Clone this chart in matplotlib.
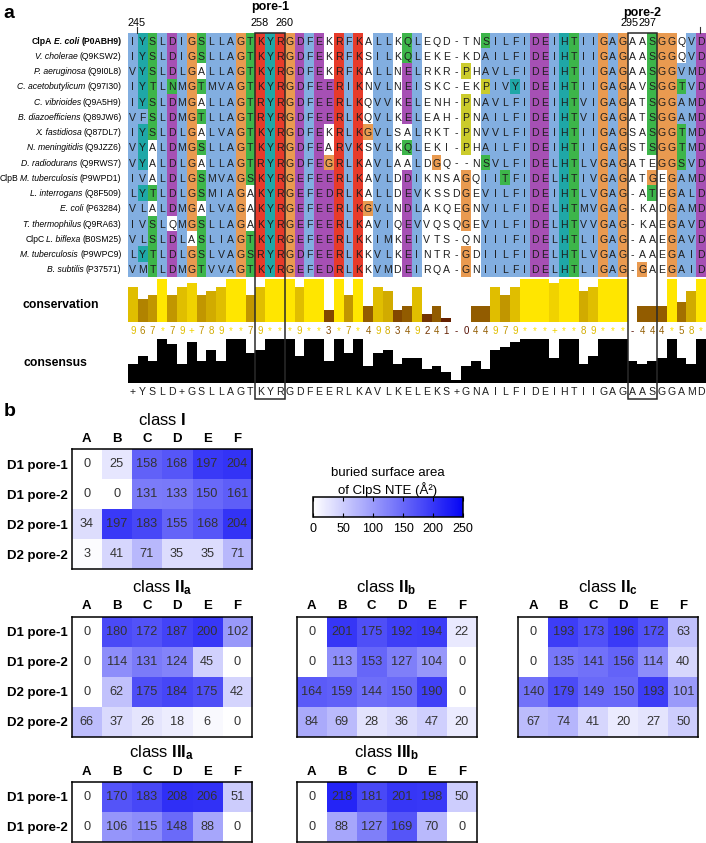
import numpy as np
import matplotlib
matplotlib.use('Agg')
import matplotlib.pyplot as plt
from matplotlib.colors import LinearSegmentedColormap
from matplotlib.patches import Rectangle
from matplotlib.lines import Line2D
import matplotlib.transforms as mtransforms

plt.rcParams['font.family'] = ['Liberation Sans', 'DejaVu Sans']
plt.rcParams['mathtext.fontset'] = 'custom'
plt.rcParams['mathtext.rm'] = 'Liberation Sans'
plt.rcParams['mathtext.bf'] = 'Liberation Sans:bold'
plt.rcParams['mathtext.it'] = 'Liberation Sans:italic'

# ---------------- panel a data ----------------
groups = ['ClpA', '', '', '', '', '', '', '', '', 'ClpB', '', '', '', 'ClpC', '', '']
species = ['E. coli', 'V. cholerae', 'P. aeruginosa', 'C. acetobutylicum', 'C. vibrioides',
           'B. diazoefficiens', 'X. fastidiosa', 'N. meningitidis', 'D. radiodurans',
           'M. tuberculosis', 'L. interrogans', 'E. coli', 'T. thermophilus',
           'L. biflexa', 'M. tuberculosis', 'B. subtilis']
accessions = ['P0ABH9', 'Q9KSW2', 'Q9I0L8', 'Q97I30', 'Q9A5H9', 'Q89JW6', 'Q87DL7', 'Q9JZZ6',
              'Q9RWS7', 'P9WPD1', 'Q8F509', 'P63284', 'Q9RA63', 'B0SM25', 'P9WPC9', 'P37571']
sequences = [
    'IYSLDIGSLLAGTKYRGDFEKRFKALLKQLEQD-TNSILFIDEIHTIIGAGAASGGQVD',
    'IYSLDIGSLLAGTKYRGDFEKRFKSILKQLEKE-KDAILFIDEIHTIIGAGAASGGQVD',
    'VYSLDLGALLAGTKYRGDFEKRFKALLNELRKR-PHAVLFIDEIHTIIGAGAASGGVMD',
    'IYTLNMGTMVAGTKYRGDFEERIKNVLNEISKC-EKPIVYIDEIHTIIGAGAVSGGTVD',
    'IYSLDMGALLAGTRYRGDFEERLKQVVKELENH-PNAVLFIDEIHTVIGAGATSGGAMD',
    'VFSLDMGTLLAGTRYRGDFEERLKQVLKELEAH-PNAILFIDEIHTVIGAGATSGGAMD',
    'IYSLDLGALVAGTKYRGDFEKRLKGVLSALRKT-PNVVLFIDEIHTIIGAGSASGGTMD',
    'VYALDMGSLLAGTKYRGDFEARVKSVLKQLEKI-PHAILFIDEIHTIIGAGSTSGGTMD',
    'VYALDLGALLAGTRYRGDFEGRLKAVLAALDGQ--NSVLFIDELHTLVGAGATEGGSVD',
    'IVALDLGSMVAGSKYRGEFEERLKAVLDDIKNSAGQIITFIDELHTIVGAGATGEGAMD',
    'LYTLDLGSMIAGAKYRGEFEDRLKALLDEVKSSDGEVILFIDEIHTLVGAG-ATEGALD',
    'VLALDMGALVAGAKYRGEFEERLKGVLNDLAKQEGNVILFIDELHTMVGAG-KADGAMD',
    'IVSLQMGSLLAGAKYRGEFEERLKAVIQEVVQSQGEVILFIDELHTVVGAG-KAEGAVD',
    'VLSLDLASLIAGTKYRGEFEERLKKIMKEIVTS-QNIIIFIDELHTLIGAG-AAEGAVD',
    'LYTLDLGSLVAGSRYRGDFEERLKKVLKEINTR-GDIILFIDELHTLVGAG-AAEGAID',
    'VMTLDMGTVVAGTKYRGEFEDRLKKVMDEIRQA-GNIILFIDELHTLIGAG-GAEGAID',
]
ruler_labels = ['245', '258', '260', '295', '297']
ruler_cols = [1, 14, 16, 52, 54]
pore_names = ['pore-1', 'pore-2']
pore_first = [14, 52]
pore_last = [16, 54]
conservation = list('967*79+789**79***9**3*7*498349241-044979***+**89***-444*58*')
consensus_seq = '+YSLD+GSLLAGTKYRGDFEERLKAVLKELEKS+GNAILFIDEIHTIIGAGAASGGAMD'
consensus_pct = [44, 62, 50, 100, 88, 44, 94, 50, 75, 50,
                 100, 100, 69, 75, 100, 100, 100, 62, 100, 100,
                 50, 100, 69, 100, 38, 69, 75, 44, 56, 56,
                 31, 38, 25, 6, 38, 50, 31, 75, 81, 94,
                 100, 100, 100, 56, 100, 100, 44, 62, 100, 100,
                 100, 50, 44, 50, 56, 100, 56, 44, 100]

# ---------------- panel b data ----------------
chains = ['A', 'B', 'C', 'D', 'E', 'F']
sites = ['D1 pore-1', 'D1 pore-2', 'D2 pore-1', 'D2 pore-2']
class_I = [[0, 25, 158, 168, 197, 204],
           [0, 0, 131, 133, 150, 161],
           [34, 197, 183, 155, 168, 204],
           [3, 41, 71, 35, 35, 71]]
class_IIa = [[0, 180, 172, 187, 200, 102],
             [0, 114, 131, 124, 45, 0],
             [0, 62, 175, 184, 175, 42],
             [66, 37, 26, 18, 6, 0]]
class_IIb = [[0, 201, 175, 192, 194, 22],
             [0, 113, 153, 127, 104, 0],
             [164, 159, 144, 150, 190, 0],
             [84, 69, 28, 36, 47, 20]]
class_IIc = [[0, 193, 173, 196, 172, 63],
             [0, 135, 141, 156, 114, 40],
             [140, 179, 149, 150, 193, 101],
             [67, 74, 41, 20, 27, 50]]
class_IIIa = [[0, 170, 183, 208, 206, 51],
              [0, 106, 115, 148, 88, 0]]
class_IIIb = [[0, 218, 181, 201, 198, 50],
              [0, 88, 127, 169, 70, 0]]

W, H = 706, 843
fig = plt.figure(figsize=(W / 100, H / 100), dpi=100)
renderer = fig.canvas.get_renderer()


def px(x0, y0, x1, y1):
    return [x0 / W, 1 - y1 / H, (x1 - x0) / W, (y1 - y0) / H]


# ClustalX colouring (Jalview rules)
BLUE, RED, GREEN, CYAN = '#82aee0', '#e73b2a', '#3db54a', '#1fa7a7'
MAGENTA, ORANGE, YELLOW = '#a650b4', '#e99a50', '#cbcb2c'
HYD = set('WLVIMAFCYHP')


def column_consensus(col):
    n = len(col)
    frac = lambda s: 100.0 * sum(c in s for c in col) / n
    cons = set()
    if frac(HYD) >= 60: cons.add('%')
    if frac(HYD) >= 80: cons.add('#')
    if frac('ED') >= 50: cons.add('-')
    if frac('KR') >= 60: cons.add('+')
    if frac('QE') >= 50: cons.add('q')
    if frac('TS') >= 50: cons.add('t')
    for aa in 'ACDEFGHIKLMNPQRSTVWY':
        if frac(aa) >= 85: cons.add(aa)
    return cons


def clustal_colour(ch, cons):
    if ch == 'G': return ORANGE
    if ch == 'P': return YELLOW
    if ch in 'ACILMFWV' and cons & set('%#ACVILMFWYHP'): return BLUE
    if ch in 'YH' and cons & set('%#ACVILMFWYHP'): return CYAN
    if ch in 'KR' and cons & set('+KRQ'): return RED
    if ch == 'N' and cons & set('ND'): return GREEN
    if ch == 'Q' and cons & set('qE+KR'): return GREEN
    if ch == 'E' and cons & set('-DEqQ'): return MAGENTA
    if ch == 'D' and cons & set('-DEN'): return MAGENTA
    if ch in 'ST' and cons & set('tST%#'): return GREEN
    return '#ffffff'


ncol = len(sequences[0])
nrow = len(sequences)
img = np.ones((nrow, ncol, 3))
for j in range(ncol):
    cons = column_consensus([s[j] for s in sequences])
    for i, s in enumerate(sequences):
        img[i, j] = matplotlib.colors.to_rgb(clustal_colour(s[j], cons))

ax = fig.add_axes(px(128, 33, 706, 277))
ax.imshow(img, extent=(0, ncol, nrow, 0), aspect='auto', interpolation='nearest')
for i, s in enumerate(sequences):
    for j, ch in enumerate(s):
        ax.text(j + 0.5, i + 0.56, ch, ha='center', va='center', fontsize=7.6, color='#1e1e1e')
ax.set_xlim(0, ncol)
ax.set_ylim(nrow, 0)
ax.axis('off')

# sequence names, pieces placed right to left in pixel space
ident = mtransforms.IdentityTransform()
for i in range(nrow):
    w = 'bold' if i == 0 else 'normal'
    parts = []
    if groups[i]:
        parts.append((groups[i], 'normal', w))
    parts.append((species[i], 'italic', w))
    parts.append(('(' + accessions[i] + ')', 'normal', w))
    xd, yd = ax.transData.transform((-0.67, i + 0.5))
    for s, st, wt in reversed(parts):
        t = fig.text(xd, yd - 3.1, s, transform=ident, ha='right', va='baseline', fontsize=6.2,
                     fontstyle=st, fontweight=wt)
        bb = t.get_window_extent(renderer=renderer)
        xd = bb.x0 - 1.9

blend = mtransforms.blended_transform_factory(ax.transData, fig.transFigure)
label_shift = [0.4, -0.1, 0.5, -0.3, -0.5]
for lab, c, dx in zip(ruler_labels, ruler_cols, label_shift):
    fig.text(c - 0.5 + dx, 1 - 23 / H, lab, transform=blend, ha='center', va='center', fontsize=7.8)
for c in [0.9, 58.4]:
    fig.add_artist(Line2D([c, c], [1 - 27 / H, 1 - 33 / H], transform=blend, color='#333', lw=0.8))

pore_y = [7, 13]
for name, c0, c1, yy in zip(pore_names, pore_first, pore_last, pore_y):
    fig.add_artist(Rectangle((c0 - 1, 1 - 399 / H), c1 - c0 + 1, (399 - 33) / H, transform=blend,
                             fill=False, ec='#2a2a2a', lw=1.1, zorder=10))
    fig.text((c0 - 1 + c1) / 2, 1 - yy / H, name, transform=blend, ha='center', va='center',
             fontsize=9, fontweight='bold')

# conservation
cons_val = np.array([11 if c == '*' else 10 if c == '+' else 0 if c == '-' else int(c)
                     for c in conservation], dtype=float)
cons_cmap = LinearSegmentedColormap.from_list('cons', [(0.33, 0.05, 0.0), (1.0, 0.9, 0.0)])
axc = fig.add_axes(px(128, 279, 706, 322))
axc.bar(np.arange(ncol) + 0.5, cons_val, width=1.0, color=cons_cmap(cons_val / 11.0))
for j, c in enumerate(conservation):
    axc.text(j + 0.5, -2.3, c, ha='center', va='center', fontsize=7,
             color=cons_cmap(cons_val[j] / 11.0), clip_on=False)
axc.set_xlim(0, ncol)
axc.set_ylim(0, 11)
axc.axis('off')
fig.text(60.5 / W, 1 - 305 / H, 'conservation', ha='center', va='center', fontsize=8.8,
         fontweight='bold')

# consensus
axs = fig.add_axes(px(128, 339, 706, 383))
axs.bar(np.arange(ncol) + 0.5, consensus_pct, width=1.0, color='black')
for j, c in enumerate(consensus_seq):
    axs.text(j + 0.5, -20.5, c, ha='center', va='center', fontsize=7.6, color='#1e1e1e',
             clip_on=False)
axs.set_xlim(0, ncol)
axs.set_ylim(0, 100)
axs.axis('off')
fig.text(55 / W, 1 - 363 / H, 'consensus', ha='center', va='center', fontsize=8.8,
         fontweight='bold')

fig.text(3 / W, 1 - 14 / H, 'a', ha='left', va='center', fontsize=14, fontweight='bold')
fig.text(4 / W, 1 - 411 / H, 'b', ha='left', va='center', fontsize=14, fontweight='bold')

# ---------------- panel b ----------------
heat_cmap = LinearSegmentedColormap.from_list('wb', ['#ffffff', '#0505f5'])


def heat(box, data, title, show_rows):
    data = np.array(data)
    a = fig.add_axes(px(*box))
    im = a.imshow(data, cmap=heat_cmap, vmin=0, vmax=250, aspect='auto')
    for i in range(data.shape[0]):
        for j in range(data.shape[1]):
            a.text(j, i, str(data[i, j]), ha='center', va='center', fontsize=9.2, color='#333333')
    a.xaxis.tick_top()
    a.set_xticks(range(len(chains)))
    a.set_xticklabels(chains, fontsize=9.5, fontweight='bold')
    a.set_yticks(range(data.shape[0]))
    if show_rows:
        a.set_yticklabels(sites[:data.shape[0]], fontsize=9.5, fontweight='bold')
    else:
        a.set_yticklabels([])
    a.tick_params(length=0, pad=3.2)
    for sp in a.spines.values():
        sp.set_linewidth(1.1)
    a.annotate(title, xy=(0.5, 1), xycoords='axes fraction', xytext=(0, 21),
               textcoords='offset points', ha='center', va='center', fontsize=12)
    return im


im = heat((71.7, 449, 252.3, 569), class_I, r'class $\mathbf{I}$', True)
heat((71.7, 616.7, 252.3, 736.7), class_IIa, r'class $\mathbf{II_a}$', True)
heat((296.7, 616.7, 476.7, 736.7), class_IIb, r'class $\mathbf{II_b}$', False)
heat((518.3, 616.7, 698.3, 736.7), class_IIc, r'class $\mathbf{II_c}$', False)
heat((71.7, 782, 252.3, 842), class_IIIa, r'class $\mathbf{III_a}$', True)
heat((296.7, 782, 476.7, 842), class_IIIb, r'class $\mathbf{III_b}$', False)

cax = fig.add_axes(px(313, 497, 463, 517))
cb = fig.colorbar(im, cax=cax, orientation='horizontal')
cb.set_ticks([0, 50, 100, 150, 200, 250])
cax.tick_params(direction='in', top=True, bottom=True, length=3, width=0.8, labelsize=9, pad=4)
cb.outline.set_linewidth(1.1)
fig.text(388 / W, 1 - 482 / H, 'buried surface area\nof ClpS NTE (Å²)', ha='center',
         va='center', fontsize=9.5, linespacing=1.25)

fig.savefig('out.png', dpi=100)
